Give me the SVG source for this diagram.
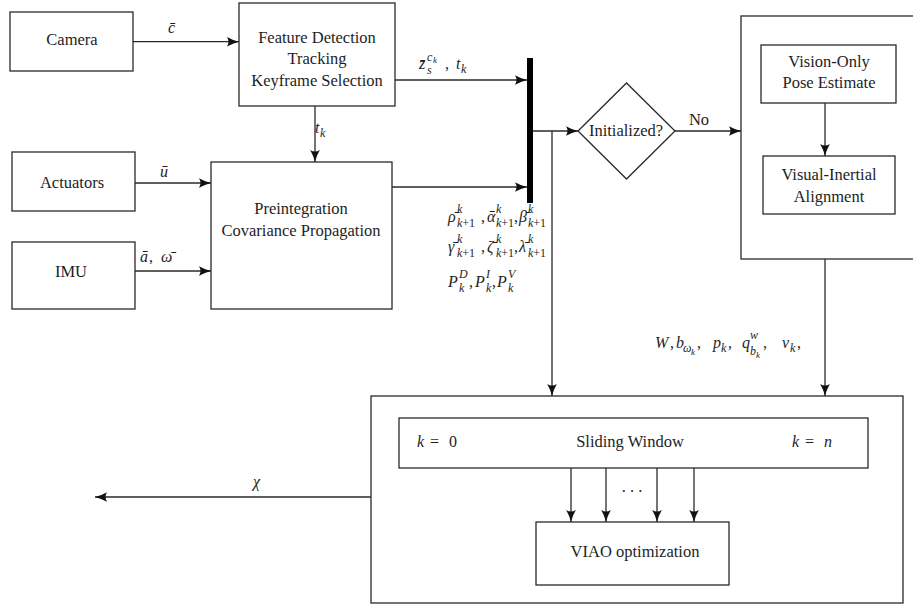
<svg xmlns="http://www.w3.org/2000/svg" width="913" height="605" viewBox="0 0 913 605" font-family="Liberation Serif, Tinos, Times New Roman, Nimbus Roman, Noto Serif, DejaVu Serif, FreeSerif, serif">
  <style>
    .box { fill: #fff; stroke: #2a2a2a; stroke-width: 1.3; }
    .frame { fill: none; stroke: #2a2a2a; stroke-width: 1.3; }
    .wire { fill: none; stroke: #2a2a2a; stroke-width: 1.3; }
    .arr { marker-end: url(#tip); }
    text { fill: #1e1e1e; }
    .lbl { font-size: 16.5px; text-anchor: middle; }
    .m { font-style: italic; font-size: 16px; }
    .n { font-size: 16px; }
    .s { font-style: italic; font-size: 12px; }
    .ss { font-style: italic; font-size: 9px; }
    .up { font-style: normal; }
  </style>
  <defs>
    <marker id="tip" markerUnits="userSpaceOnUse" viewBox="-13 -6 14 12" refX="0" refY="0" markerWidth="14" markerHeight="12" orient="auto">
      <path d="M-12,-4.8 Q-6,-1.4 0,0 Q-6,1.4 -12,4.8 Q-9,0 -12,-4.8 Z" fill="#111"/>
    </marker>
  </defs>

  <rect width="913" height="605" fill="#fff"/>

  <!-- connectors -->
  <g id="connectors">
    <path class="wire arr" d="M133,41.7 H239"/>
    <path class="wire arr" d="M315,106 V162"/>
    <path class="wire arr" d="M135,183 H211"/>
    <path class="wire arr" d="M135,271 H211"/>
    <path class="wire arr" d="M395,80 H527"/>
    <path class="wire arr" d="M392,187 H527"/>
    <path class="wire arr" d="M533,131 H578"/>
    <path class="wire arr" d="M552,131 V396"/>
    <path class="wire arr" d="M675,131 H741"/>
    <path class="wire arr" d="M825,103 V156"/>
    <path class="wire arr" d="M825,259 V396"/>
    <path class="wire arr" d="M571,468 V522"/>
    <path class="wire arr" d="M606,468 V522"/>
    <path class="wire arr" d="M657,468 V522"/>
    <path class="wire arr" d="M694,468 V522"/>
    <path class="wire arr" d="M371,497 H95"/>
    <!-- synchronisation bar -->
    <rect x="527" y="58" width="6" height="145" fill="#000"/>
  </g>

  <!-- connector labels -->
  <g id="edge-labels">
    <text class="m" x="168" y="33">c̄</text>
    <text class="m" x="160" y="177">ū</text>
    <text class="m" x="140" y="262">ā</text>
    <text class="n" x="149" y="262">,</text>
    <text class="m" x="161" y="262">ω̄</text>

    <text class="m" x="419" y="69">z̄</text>
    <text class="s" x="427" y="74">s</text>
    <text class="s" x="427" y="61">c</text>
    <text class="ss" x="433" y="63">k</text>
    <text class="n" x="445" y="69">,</text>
    <text class="m" x="456" y="69">t</text>
    <text class="s" x="461" y="73">k</text>

    <text class="m" x="315" y="133">t</text>
    <text class="s" x="320" y="137">k</text>

    <!-- preintegrated terms -->
    <text class="m" x="448" y="222">ρ̄</text>
    <text class="s" x="457" y="213">k</text>
    <text class="s" x="457" y="227">k<tspan class="up">+1</tspan></text>
    <text class="n" x="481" y="222">,</text>
    <text class="m" x="487" y="222">ᾱ</text>
    <text class="s" x="496" y="213">k</text>
    <text class="s" x="496" y="227">k<tspan class="up">+1</tspan></text>
    <text class="n" x="514" y="222">,</text>
    <text class="m" x="519" y="222">β̄</text>
    <text class="s" x="528" y="213">k</text>
    <text class="s" x="528" y="227">k<tspan class="up">+1</tspan></text>

    <text class="m" x="448" y="252">γ̄</text>
    <text class="s" x="457" y="243">k</text>
    <text class="s" x="457" y="257">k<tspan class="up">+1</tspan></text>
    <text class="n" x="481" y="252">,</text>
    <text class="m" x="487" y="252">ζ̄</text>
    <text class="s" x="496" y="243">k</text>
    <text class="s" x="496" y="257">k<tspan class="up">+1</tspan></text>
    <text class="n" x="514" y="252">,</text>
    <text class="m" x="519" y="252">λ̄</text>
    <text class="s" x="528" y="243">k</text>
    <text class="s" x="528" y="257">k<tspan class="up">+1</tspan></text>

    <text class="m" x="448" y="287">P</text>
    <text class="s" x="459" y="278">D</text>
    <text class="s" x="459" y="292">k</text>
    <text class="n" x="469" y="287">,</text>
    <text class="m" x="475" y="287">P</text>
    <text class="s" x="486" y="278">I</text>
    <text class="s" x="486" y="292">k</text>
    <text class="n" x="492" y="287">,</text>
    <text class="m" x="497" y="287">P</text>
    <text class="s" x="508" y="278">V</text>
    <text class="s" x="508" y="292">k</text>

    <text class="lbl" x="699" y="125">No</text>

    <!-- initial estimates -->
    <text class="m" x="655" y="348">W</text>
    <text class="n" x="670" y="348">,</text>
    <text class="m" x="676" y="348">b</text>
    <text class="s" x="683" y="352">ω</text>
    <text class="ss" x="691" y="355">k</text>
    <text class="n" x="697" y="348">,</text>
    <text class="m" x="713" y="348">p</text>
    <text class="s" x="721" y="352">k</text>
    <text class="n" x="728" y="348">,</text>
    <text class="m" x="742" y="348">q</text>
    <text class="s" x="750" y="339">w</text>
    <text class="s" x="750" y="355">b</text>
    <text class="ss" x="756" y="358">k</text>
    <text class="n" x="763" y="348">,</text>
    <text class="m" x="782" y="348">v</text>
    <text class="s" x="790" y="352">k</text>
    <text class="n" x="797" y="348">,</text>

    <text class="m" x="253" y="487">χ</text>
  </g>

  <!-- nodes -->
  <g id="camera">
    <rect class="box" x="10" y="12" width="123" height="59"/>
    <text class="lbl" x="72" y="45">Camera</text>
  </g>
  <g id="actuators">
    <rect class="box" x="12" y="152" width="123" height="59"/>
    <text class="lbl" x="72" y="188">Actuators</text>
  </g>
  <g id="imu">
    <rect class="box" x="12" y="242" width="123" height="67"/>
    <text class="lbl" x="71" y="277">IMU</text>
  </g>
  <g id="frontend">
    <rect class="box" x="239" y="3" width="156" height="103"/>
    <text class="lbl" x="317" y="43">Feature Detection</text>
    <text class="lbl" x="317" y="64">Tracking</text>
    <text class="lbl" x="317" y="86">Keyframe Selection</text>
  </g>
  <g id="preintegration">
    <rect class="box" x="211" y="162" width="181" height="147"/>
    <text class="lbl" x="301" y="214">Preintegration</text>
    <text class="lbl" x="301" y="236">Covariance Propagation</text>
  </g>
  <g id="initialized">
    <path class="box" d="M578,131 L626.5,83 L675,131 L626.5,179 Z"/>
    <text class="lbl" x="626" y="136">Initialized?</text>
  </g>
  <g id="initialization">
    <rect class="frame" x="741" y="16" width="200" height="243"/>
    <g id="vision-only">
      <rect class="box" x="761" y="45" width="135" height="58"/>
      <text class="lbl" x="829" y="67">Vision-Only</text>
      <text class="lbl" x="829" y="88">Pose Estimate</text>
    </g>
    <g id="alignment">
      <rect class="box" x="763" y="156" width="132" height="58"/>
      <text class="lbl" x="829" y="180">Visual-Inertial</text>
      <text class="lbl" x="829" y="202">Alignment</text>
    </g>
  </g>
  <g id="backend">
    <rect class="frame" x="371" y="396" width="532" height="207"/>
    <g id="sliding-window">
      <rect class="box" x="399" y="418" width="469" height="50"/>
      <text class="m" x="417" y="447">k</text>
      <text class="n" x="430" y="447">=</text>
      <text class="n" x="449" y="447">0</text>
      <text class="lbl" x="630" y="447">Sliding Window</text>
      <text class="m" x="792" y="447">k</text>
      <text class="n" x="805" y="447">=</text>
      <text class="m" x="824" y="447">n</text>
      <text class="lbl" x="632" y="492">. . .</text>
    </g>
    <g id="viao">
      <rect class="box" x="536" y="522" width="193" height="63"/>
      <text class="lbl" x="635" y="557">VIAO optimization</text>
    </g>
  </g>
</svg>
